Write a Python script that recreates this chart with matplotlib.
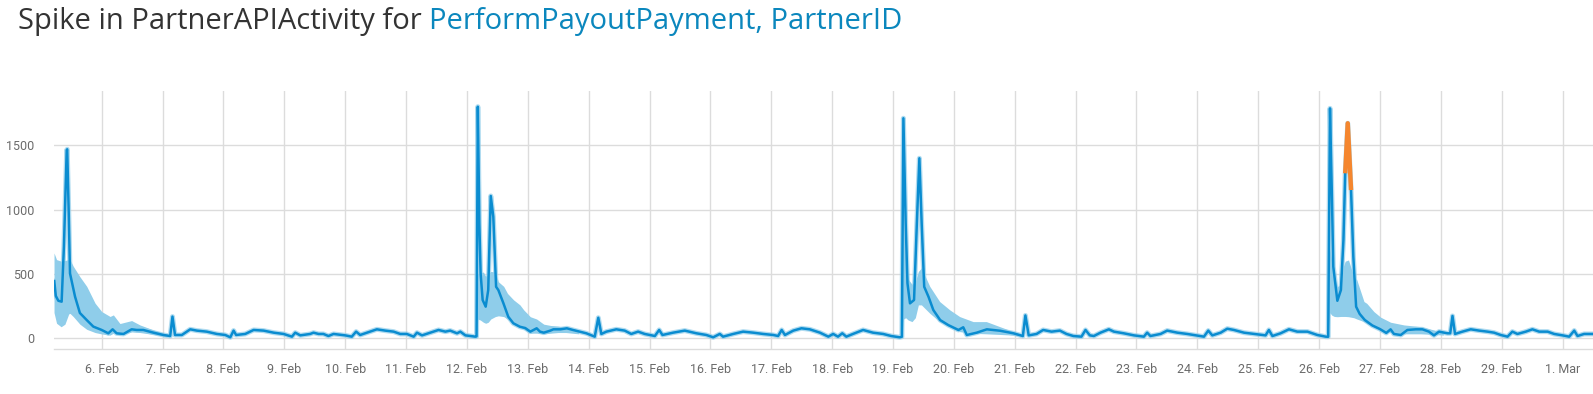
import matplotlib.pyplot as plt
import matplotlib.dates as mdates
import numpy as np
import pandas as pd

START = pd.Timestamp("2020-02-05")

hours = [5.3, 5.9, 6.9, 8.2, 9.1, 10.2, 10.4, 11.0, 11.5, 13.5, 15.4, 18.1, 20.7,
         24.0, 26.6, 28.3, 29.9, 32.6, 35.8, 37.8, 40.4, 44.4, 48.3, 51.0, 51.9,
         52.9, 55.6, 58.9, 61.5, 65.4, 69.4, 72.7, 74.7, 76.0, 77.0, 80.6, 83.9,
         87.8, 91.8, 95.7, 99.0, 100.3, 102.3, 106.2, 107.5, 109.5, 111.4, 113.4,
         115.4, 117.4, 120.0, 122.6, 124.3, 125.9, 128.6, 132.5, 135.8, 139.1,
         141.7, 144.3, 147.0, 148.3, 150.3, 153.6, 156.8, 159.5, 161.4, 164.1,
         165.4, 167.4, 171.3, 171.8, 172.3, 172.9, 173.4, 174.2, 175.4, 176.4,
         177.4, 178.4, 179.5, 180.4, 182.4, 184.3, 186.3, 188.9, 191.0, 193.0,
         195.5, 196.8, 198.3, 200.9, 202.1, 204.9, 207.4, 209.8, 212.4, 215.1,
         218.4, 219.8, 221.0, 223.0, 226.9, 230.2, 232.8, 235.5, 238.1, 242.1,
         243.8, 245.1, 249.3, 253.9, 258.5, 262.4, 265.1, 267.7, 269.0, 273.0,
         276.9, 280.9, 284.8, 288.8, 290.7, 292.1, 293.4, 296.7, 299.9, 303.2,
         307.2, 310.5, 312.4, 314.3, 316.0, 317.6, 320.2, 324.2, 328.1, 332.1,
         335.3, 338.6, 339.5, 340.1, 341.0, 341.7, 342.7, 344.3, 345.4, 346.4,
         347.3, 348.3, 350.0, 351.9, 354.6, 357.8, 361.8, 363.7, 365.1, 369.0,
         373.0, 378.2, 383.5, 387.2, 388.2, 389.5, 392.6, 395.2, 398.5, 401.8,
         404.4, 407.1, 410.3, 411.9, 413.6, 415.2, 417.8, 421.1, 423.1, 427.0,
         431.0, 434.9, 436.2, 437.5, 441.5, 444.1, 448.1, 452.0, 458.6, 460.3,
         461.9, 465.2, 467.8, 470.4, 474.4, 478.3, 482.9, 484.2, 485.6, 488.8,
         492.1, 495.4, 499.4, 503.3, 506.6, 507.6, 508.3, 509.0, 509.6, 511.2,
         512.6, 513.6, 514.3, 515.3, 516.6, 517.5, 518.6, 520.0, 522.0, 525.0,
         528.0, 530.5, 532.2, 533.5, 536.2, 538.8, 542.1, 544.7, 547.3, 549.3,
         551.3, 554.6, 555.7, 556.6, 557.6, 560.5, 563.8, 567.1, 570.4, 573.0,
         575.6, 578.3, 580.2, 582.2, 585.5, 588.1, 590.8, 594.1, 596.7, 600.0,
         602.6, 604.6, 605.9, 608.5, 612.1]
values = [445, 330, 292, 285, 712, 1464, 1470, 972, 505, 323, 197, 142, 91,
          65, 39, 70, 39, 34, 70, 65, 65, 44, 26, 18, 169,
          26, 26, 70, 60, 52, 34, 26, 8, 60, 26, 34, 65,
          60, 44, 34, 13, 44, 23, 34, 44, 34, 34, 18,
          34, 29, 23, 13, 52, 26, 44, 70, 60, 52,
          34, 34, 13, 44, 23, 44, 65, 52, 60, 39,
          52, 23, 13, 15, 1801, 894, 505, 298, 246, 375,
          1107, 946, 401, 375, 272, 168, 117, 90, 80, 52,
          78, 52, 44, 60, 70, 70, 78, 65, 52, 39,
          13, 160, 34, 52, 70, 60, 34, 52, 34, 18,
          65, 26, 44, 60, 39, 26, 8, 34, 13, 34,
          52, 44, 34, 26, 18, 65, 26, 60, 78, 70,
          44, 13, 34, 13, 39, 13, 34, 65, 44, 34,
          18, 8, 12, 1711, 894, 428, 272, 298, 894, 1400,
          894, 401, 323, 220, 142, 103, 65, 86, 26, 44,
          70, 59, 39, 18, 178, 23, 34, 65, 52, 60,
          34, 18, 13, 65, 23, 18, 44, 70, 52, 39,
          23, 13, 44, 18, 34, 60, 44, 34, 13, 60,
          23, 44, 75, 65, 44, 34, 23, 65, 18, 39,
          70, 52, 52, 26, 13, 12, 1788, 1153, 557, 292,
          375, 764, 1283, 1672, 1153, 635, 246, 190, 143, 100,
          72, 42, 70, 34, 26, 65, 70, 70, 52, 23,
          52, 39, 39, 174, 34, 52, 70, 60, 52, 44,
          26, 13, 52, 34, 52, 70, 52, 52, 34, 23,
          13, 60, 18, 34, 34]

# points flagged as anomalous (orange)
anomaly_hours = [514.3, 515.3, 516.6]
anomaly_values = [1283, 1672, 1153]

# expected range after each weekly burst
band_hours = [5.2, 6.2, 8.0, 9.5, 11.0, 11.5, 12.8, 15.4, 18.1, 21.4, 24.0, 27.3,
              28.6, 31.2, 35.8, 39.1, 44.4, 48.3, 51.0,
              171.7, 172.3, 173.3, 174.5, 175.4, 176.4, 177.4, 179.2, 180.4,
              182.5, 184.0, 186.4, 188.9, 190.4, 193.0, 195.5, 198.3, 201.0,
              204.0, 207.0, 212.0,
              339.5, 340.1, 341.0, 342.0, 343.5, 344.8, 346.0, 347.2, 350.5,
              354.4, 358.4, 362.3, 367.6, 372.8, 378.1, 383.4, 387.0,
              507.4, 508.2, 509.0, 510.0, 511.2, 512.6, 513.6, 514.3, 515.6,
              517.7, 518.9, 521.7, 522.8, 525.6, 528.3, 532.2, 537.5, 544.0,
              549.3, 553.0]
band_low = [200, 117, 90, 110, 190, 194, 169, 110, 70, 45, 34, 25,
            40, 25, 50, 45, 30, 18, 12,
            8, 150, 142, 125, 117, 125, 150, 169, 175,
            169, 150, 120, 91, 70, 40, 40, 35, 40,
            45, 45, 35,
            5, 150, 160, 142, 130, 160, 260, 260, 195,
            130, 91, 52, 39, 35, 30, 25, 15,
            5, 200, 180, 170, 168, 170, 170, 170, 168,
            160, 150, 130, 115, 90, 65, 45, 35, 35,
            30, 25]
band_high = [664, 612, 600, 605, 612, 612, 560, 479, 404, 273, 208, 170,
             182, 115, 138, 104, 65, 40, 25,
             20, 500, 510, 515, 482, 500, 520, 515, 440,
             404, 349, 299, 260, 221, 168, 150, 110, 100,
             95, 85, 65,
             15, 900, 600, 460, 420, 440, 520, 547, 404,
             286, 221, 169, 130, 130, 91, 52, 30,
             15, 700, 600, 480, 401, 420, 560, 600, 609,
             480, 453, 286, 272, 208, 164, 125, 104, 91,
             65, 45]

y_ticks = [0, 500, 1000, 1500]

LINE = "#0a8cd0"
BAND = "#8fcdea"
ORANGE = "#f5862e"
GRID = "#dcdcdc"
TICK = "#6b6b6b"


def to_time(h):
    return START + pd.to_timedelta(np.asarray(h, dtype=float), unit="h")


W, H = 1593, 394
fig = plt.figure(figsize=(W / 100, H / 100), dpi=100)
ax = fig.add_axes([54 / W, 45 / H, 1539 / W, 258 / H])

# band, split where there is a gap between bursts
bh = np.array(band_hours)
breaks = np.where(np.diff(bh) > 24)[0] + 1
for idx in np.split(np.arange(len(bh)), breaks):
    ax.fill_between(to_time(bh[idx]), np.array(band_low)[idx], np.array(band_high)[idx],
                    color=BAND, lw=0, zorder=2)

t = to_time(hours)
ax.plot(t, values, color=BAND, lw=3.6, alpha=0.7, zorder=3, solid_joinstyle="round")
ax.plot(t, values, color=LINE, lw=1.8, zorder=4, solid_joinstyle="round")
ax.plot(to_time(anomaly_hours), anomaly_values, color=ORANGE, lw=3.2, zorder=5,
        solid_capstyle="butt")

ax.set_xlim(to_time([5.19])[0], to_time([612.0])[0])
ax.set_ylim(-83, 1923)
ax.set_yticks(y_ticks)
ax.xaxis.set_major_locator(mdates.DayLocator(bymonthday=list(range(6, 32)) + [1]))
ax.xaxis.set_major_formatter(mdates.DateFormatter("%-d. %b"))

ax.grid(True, color=GRID, lw=1.0, zorder=0)
ax.set_axisbelow(True)
for side in ["top", "right", "left"]:
    ax.spines[side].set_visible(False)
ax.spines["bottom"].set_color(GRID)
ax.spines["bottom"].set_linewidth(1.0)
ax.tick_params(length=0, colors=TICK, labelsize=9)
ax.tick_params(axis="y", pad=14)
ax.tick_params(axis="x", pad=10)
for lab in ax.get_xticklabels() + ax.get_yticklabels():
    lab.set_family("Roboto")

# two-tone title
t1 = fig.text(18 / W, 1 - 29 / H, "Spike in PartnerAPIActivity for ", color="#333333",
              fontsize=21, family="Open Sans", va="baseline")
r = fig.canvas.get_renderer()
bb = t1.get_window_extent(renderer=r)
fig.text(bb.x1 / W, 1 - 29 / H, "PerformPayoutPayment, PartnerID", color="#0b87bd",
         fontsize=21, family="Open Sans", va="baseline")

fig.savefig("out.png", dpi=100)
